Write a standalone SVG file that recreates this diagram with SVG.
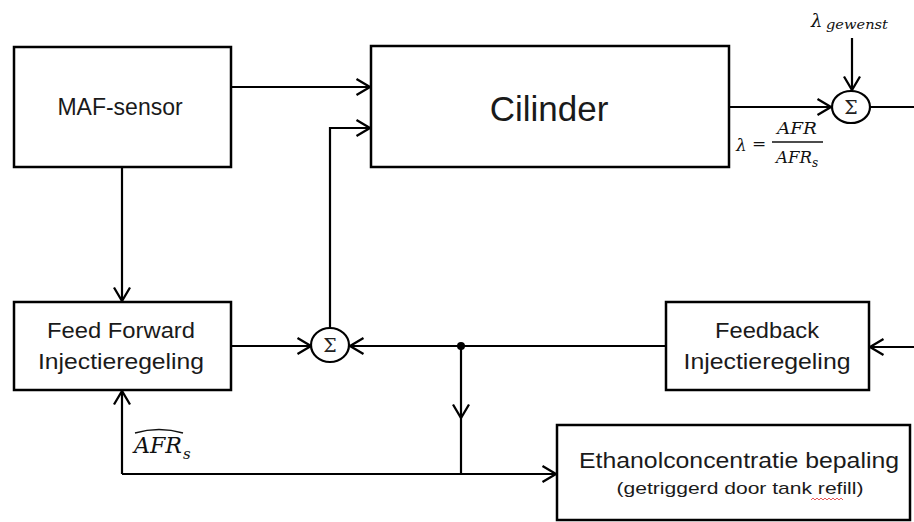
<svg xmlns="http://www.w3.org/2000/svg" width="914" height="522" viewBox="0 0 914 522">
<defs>
<marker id="arr" markerUnits="userSpaceOnUse" markerWidth="18" markerHeight="20" refX="15" refY="9.5" orient="auto" viewBox="0 0 18 19">
<path d="M1.5,1.5 L15,9.5 L1.5,17.5" fill="none" stroke="#000" stroke-width="2.3"/>
</marker>
</defs>
<style>
.box{fill:#fff;stroke:#000;stroke-width:2.5}
.lbl{font-family:"Liberation Sans",Arial,sans-serif;fill:#1a1a1a;text-anchor:middle}
.con{fill:none;stroke:#000;stroke-width:2.2}
.sum{fill:#fff;stroke:#000;stroke-width:2.2}
.math{font-family:"DejaVu Serif","Liberation Serif",serif;font-style:italic;fill:#111}
.sig{font-family:"DejaVu Serif","Liberation Serif",serif;fill:#222;text-anchor:middle}
</style>
<rect width="914" height="522" fill="#fff"/>

<g id="connectors">
<path class="con" d="M231,87 H370" marker-end="url(#arr)"/>
<path class="con" d="M330,328 V128 H370" marker-end="url(#arr)"/>
<path class="con" d="M122,167 V301" marker-end="url(#arr)"/>
<path class="con" d="M231,346 H311" marker-end="url(#arr)"/>
<path class="con" d="M666,346 H350" marker-end="url(#arr)"/>
<path class="con" d="M461,346 V418" marker-end="url(#arr)"/>
<path class="con" d="M461,418 V474"/>
<path class="con" d="M122,474 V391" marker-end="url(#arr)"/>
<path class="con" d="M122,474 H556" marker-end="url(#arr)"/>
<path class="con" d="M729,107 H831" marker-end="url(#arr)"/>
<path class="con" d="M852,38 V90" marker-end="url(#arr)"/>
<path class="con" d="M870,107 H914"/>
<path class="con" d="M914,347 H870" marker-end="url(#arr)"/>
<circle cx="461" cy="346" r="4" fill="#000"/>
</g>

<g id="maf">
<rect class="box" x="14" y="47" width="217" height="120"/>
<text class="lbl" x="120" y="115" font-size="23">MAF-sensor</text>
</g>

<g id="cilinder">
<rect class="box" x="371" y="46" width="358" height="121"/>
<text class="lbl" x="549" y="121" font-size="35">Cilinder</text>
</g>

<g id="feedforward">
<rect class="box" x="14" y="302" width="217" height="88"/>
<text class="lbl" x="121" y="338" font-size="22" textLength="148" lengthAdjust="spacingAndGlyphs">Feed Forward</text>
<text class="lbl" x="121" y="369" font-size="22" textLength="166" lengthAdjust="spacingAndGlyphs">Injectieregeling</text>
</g>

<g id="sum1">
<ellipse class="sum" cx="330" cy="345" rx="19" ry="17"/>
<text class="sig" x="330" y="352" font-size="19">Σ</text>
</g>

<g id="feedback">
<rect class="box" x="666" y="302" width="203" height="88"/>
<text class="lbl" x="767" y="338" font-size="22" textLength="104" lengthAdjust="spacingAndGlyphs">Feedback</text>
<text class="lbl" x="767" y="369" font-size="22" textLength="167" lengthAdjust="spacingAndGlyphs">Injectieregeling</text>
</g>

<g id="ethanol">
<rect class="box" x="557" y="425" width="353" height="95"/>
<text class="lbl" x="739" y="468" font-size="22" textLength="320" lengthAdjust="spacingAndGlyphs">Ethanolconcentratie bepaling</text>
<text class="lbl" x="740" y="494" font-size="17" textLength="247" lengthAdjust="spacingAndGlyphs">(getriggerd  door tank refill)</text>
<path d="M811,500 l2,-2 l2,2 l2,-2 l2,2 l2,-2 l2,2 l2,-2 l2,2 l2,-2 l2,2 l2,-2 l2,2 l2,-2 l2,2 l2,-2 l2,2" fill="none" stroke="#e03030" stroke-width="0.8"/>
</g>

<g id="sum2">
<ellipse class="sum" cx="851" cy="107" rx="19" ry="16"/>
<text class="sig" x="851" y="114" font-size="19">Σ</text>
</g>

<g id="lambda-gewenst">
<text class="math" x="811" y="27" font-size="18" font-style="normal">λ</text>
<text class="math" x="826" y="29" font-size="13" textLength="62" lengthAdjust="spacingAndGlyphs">gewenst</text>
</g>

<g id="lambda-formula">
<text class="math" x="736" y="151" font-size="17" font-style="normal">λ</text>
<text class="math" x="752" y="149" font-size="17" font-style="normal">=</text>
<text class="math" x="797" y="134" font-size="16" text-anchor="middle" textLength="40" lengthAdjust="spacingAndGlyphs">AFR</text>
<line x1="772" y1="142" x2="823" y2="142" stroke="#111" stroke-width="1.3"/>
<text class="math" x="776" y="163" font-size="16" textLength="36" lengthAdjust="spacingAndGlyphs">AFR</text>
<text class="math" x="812" y="167" font-size="12">s</text>
</g>

<g id="afr-hat">
<text class="math" x="134" y="453" font-size="22" textLength="48" lengthAdjust="spacingAndGlyphs">AFR</text>
<text class="math" x="183" y="459" font-size="15">s</text>
<path d="M135,433 Q159,426 183,433" fill="none" stroke="#111" stroke-width="1.4"/>
</g>
</svg>
